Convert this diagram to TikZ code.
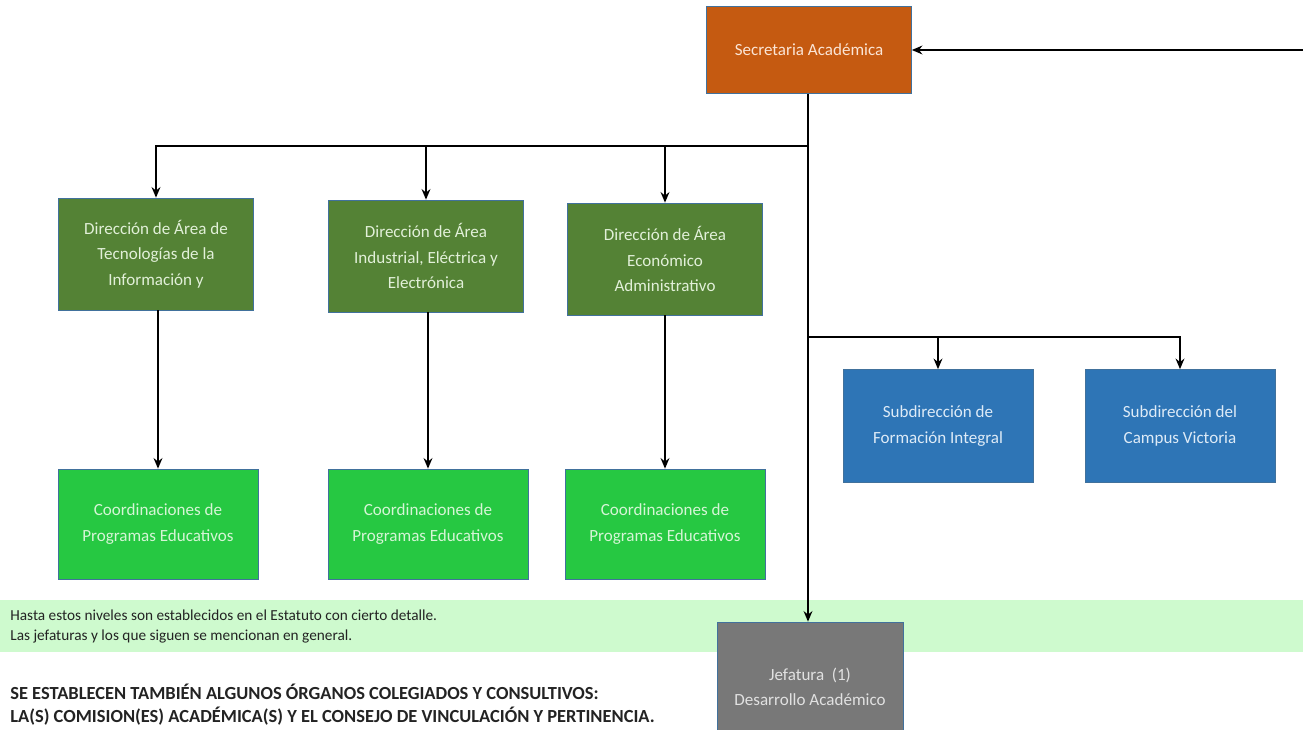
\documentclass[tikz,border=0pt]{standalone}
\usepackage{fontspec}
\setmainfont{Carlito}
\usetikzlibrary{arrows.meta}

\definecolor{secorange}{RGB}{197,90,17}
\definecolor{secorangetxt}{RGB}{251,229,214}
\definecolor{dirgreen}{RGB}{84,130,53}
\definecolor{dirgreentxt}{RGB}{226,240,217}
\definecolor{cogreen}{RGB}{38,200,66}
\definecolor{cogreentxt}{RGB}{214,245,214}
\definecolor{subblue}{RGB}{46,117,182}
\definecolor{subbluetxt}{RGB}{222,235,247}
\definecolor{jefgray}{RGB}{120,120,120}
\definecolor{jefgraytxt}{RGB}{225,225,225}
\definecolor{boxedge}{RGB}{65,113,156}
\definecolor{bandgreen}{RGB}{206,250,206}
\definecolor{notetxt}{RGB}{35,35,35}

\begin{document}
\begin{tikzpicture}[x=0.02cm,y=-0.02cm,
    box/.style={draw=boxedge, line width=0.4pt, align=center, inner sep=0pt,
        font=\fontsize{9.7}{14.5}\selectfont},
    secbox/.style={box, fill=secorange, text=secorangetxt, minimum width=4.1cm, minimum height=1.74cm},
    dirbox/.style={box, fill=dirgreen, text=dirgreentxt, minimum width=3.9cm, minimum height=2.24cm},
    coordbox/.style={box, fill=cogreen, text=cogreentxt, minimum width=4cm, minimum height=2.2cm},
    subbox/.style={box, fill=subblue, text=subbluetxt, minimum width=3.8cm, minimum height=2.26cm},
    jefbox/.style={box, fill=jefgray, text=jefgraytxt, minimum width=3.72cm, minimum height=2.6cm},
    note/.style={anchor=west, inner sep=0pt, text=notetxt, font=\fontsize{8.7}{11}\selectfont},
    bignote/.style={anchor=west, inner sep=0pt, text=notetxt, font=\fontsize{10.5}{12}\selectfont\bfseries},
    arrow/.style={-{Stealth[length=6pt,width=5pt]}, line width=1.1pt}]
    \useasboundingbox (0,0) rectangle (1303,730);
    \clip (0,0) rectangle (1303,730);

    % band behind the lower boxes
    \fill[bandgreen] (0,600) rectangle (1303,652);
    \node[note] (band1) at (10,615) {Hasta estos niveles son establecidos en el Estatuto con cierto detalle.};
    \node[note] (band2) at (10,637) {Las jefaturas y los que siguen se mencionan en general.};
    \node[bignote] (org1) at (10,692) {SE ESTABLECEN TAMBIÉN ALGUNOS ÓRGANOS COLEGIADOS Y CONSULTIVOS:};
    \node[bignote] (org2) at (10,716) {LA(S) COMISION(ES) ACADÉMICA(S) Y EL CONSEJO DE VINCULACIÓN Y PERTINENCIA.};

    % boxes
    \node[secbox] (sec) at (809,50) {Secretaria Académica};
    \node[dirbox] (dirA) at (156,254) {Dirección de Área de\\Tecnologías de la\\Información y};
    \node[dirbox] (dirB) at (426,256) {Dirección de Área\\Industrial, Eléctrica y\\Electrónica};
    \node[dirbox] (dirC) at (665,259) {Dirección de Área\\Económico\\Administrativo};
    \node[subbox] (subF) at (938,426) {Subdirección de\\Formación Integral};
    \node[subbox] (subC) at (1180,426) {Subdirección del\\Campus Victoria};
    \node[jefbox] (jef) at (810,687) {Jefatura~~(1)\\Desarrollo Académico};

    % connectors
    \coordinate (in) at (1303,50);
    \coordinate (hbar) at (808,146);
    \coordinate (rbar) at (808,337);
    \draw[arrow] (in) -- (sec);
    \draw[arrow] (sec.south -| hbar) -- (hbar |- jef.north);
    \foreach \n in {A,B,C}
        \draw[arrow] (hbar) -| (dir\n.north);
    \draw[arrow] (rbar) -| (subF.north);
    \draw[arrow] (rbar) -| (subC.north);
    \foreach \n/\x in {A/158,B/428,C/665} {
        \node[coordbox] (co\n) at (\x,524) {Coordinaciones de\\Programas Educativos};
        \draw[arrow] (dir\n.south -| co\n) -- (co\n);
    }
\end{tikzpicture}
\end{document}
